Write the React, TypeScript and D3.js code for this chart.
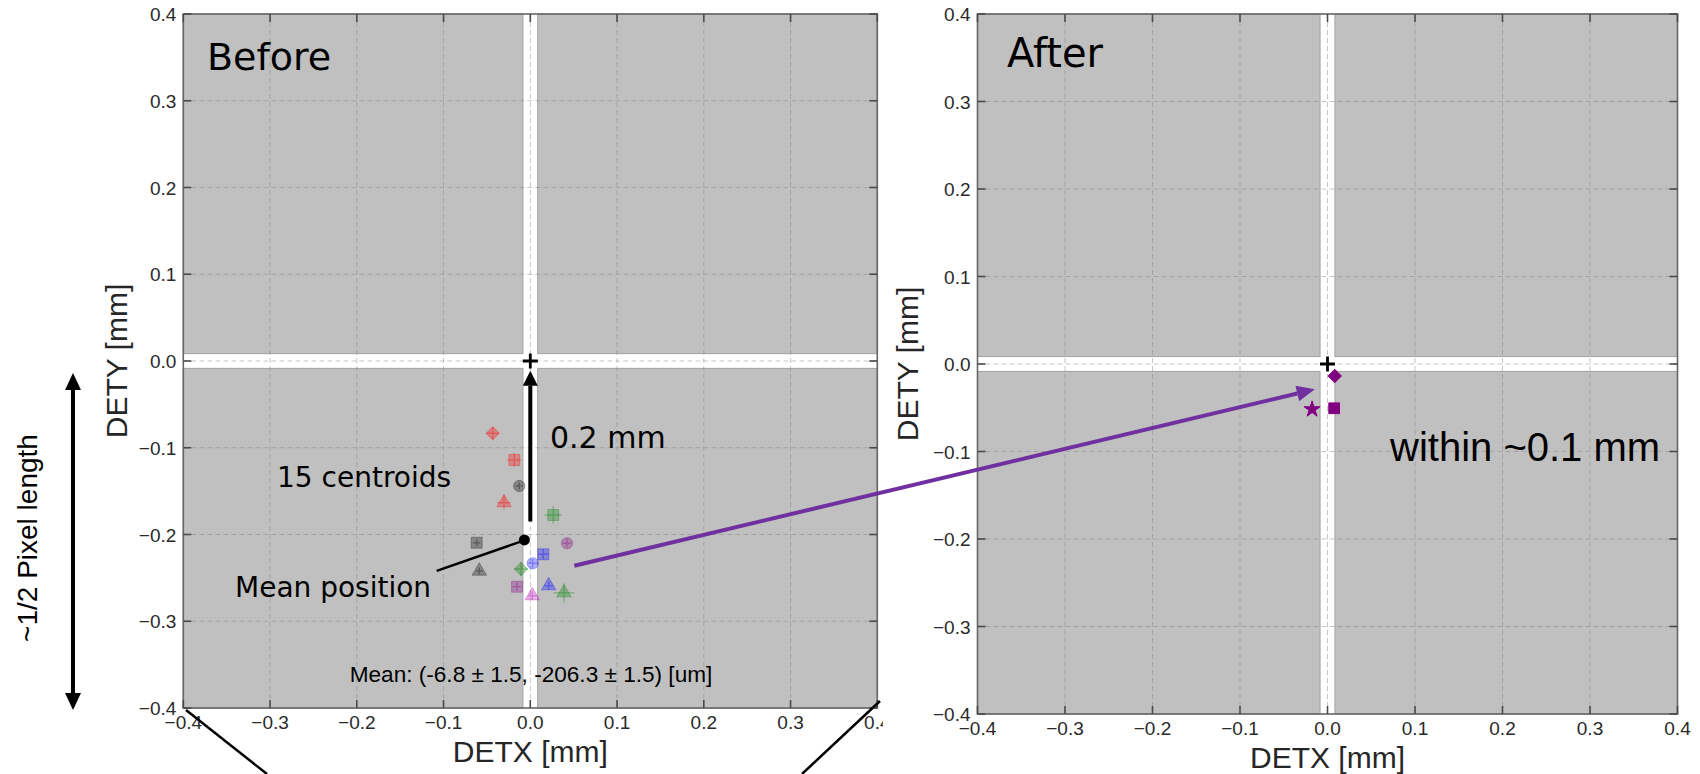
import React from 'react';
import * as d3 from 'd3';

// ---------- data ----------
const tickValues = [-0.4, -0.3, -0.2, -0.1, 0.0, 0.1, 0.2, 0.3, 0.4];
const tickLabels = ['\u22120.4', '\u22120.3', '\u22120.2', '\u22120.1', '0.0', '0.1', '0.2', '0.3', '0.4'];

// 15 centroids before correction (mm)
const beforeX = [-0.0433, -0.0184, -0.0127, -0.0303, 0.0265, -0.0618, 0.0423, 0.0150, 0.0028, -0.0107, -0.0588, -0.0153, 0.0212, 0.0388, 0.0023];
const beforeY = [-0.0833, -0.1141, -0.1441, -0.1633, -0.1775, -0.2095, -0.2101, -0.2228, -0.2332, -0.2398, -0.2421, -0.2602, -0.2590, -0.2671, -0.2705];
const beforeXErr = [0.007, 0.008, 0.004, 0.008, 0.010, 0.004, 0.005, 0.006, 0.005, 0.008, 0.004, 0.005, 0.005, 0.012, 0.005];
const beforeYErr = [0.007, 0.008, 0.004, 0.008, 0.010, 0.004, 0.005, 0.006, 0.005, 0.008, 0.004, 0.005, 0.005, 0.011, 0.005];
const beforeColor = ['#ff0000', '#ff0000', '#000000', '#ff0000', '#008000', '#000000', '#800080', '#0000ff', '#0000ff', '#008000', '#000000', '#800080', '#0000ff', '#008000', '#b000b0'];
const beforeShape = ['D', 's', 'o', '^', 's', 's', 'o', 's', 'o', 'D', '^', 's', '^', '^', '^'];

// centroids after correction (mm)
const afterX = [0.0083, -0.0176, 0.0076];
const afterY = [-0.0137, -0.0518, -0.0506];
const afterShape = ['D', '*', 's'];
const afterColor = '#800080';

const meanX = -0.0068;
const meanY = -0.2063;
const gapHalf = 0.0085;

const FONT = "'Liberation Sans', Arial, Helvetica, sans-serif";
const ANNO = "'DejaVu Sans', Verdana, sans-serif";

type PanelCfg = { left: number; top: number; size: number };
const LEFT: PanelCfg = { left: 183.3, top: 14, size: 694 };
const RIGHT: PanelCfg = { left: 977.5, top: 14, size: 700 };

function scales(p: PanelCfg) {
  const x = d3.scaleLinear().domain([-0.4, 0.4]).range([p.left, p.left + p.size]);
  const y = d3.scaleLinear().domain([-0.4, 0.4]).range([p.top + p.size, p.top]);
  return { x, y };
}

function symbolPath(shape: string, size: number): string {
  if (shape === 'D') return d3.symbol().type(d3.symbolSquare).size(size)() as string;
  if (shape === 's') return d3.symbol().type(d3.symbolSquare).size(size)() as string;
  if (shape === 'o') return d3.symbol().type(d3.symbolCircle).size(size)() as string;
  if (shape === '^') return d3.symbol().type(d3.symbolTriangle).size(size)() as string;
  if (shape === '*') return d3.symbol().type(d3.symbolStar).size(size)() as string;
  return d3.symbol().size(size)() as string;
}

function arrow(x1: number, y1: number, x2: number, y2: number, len: number, w: number) {
  const dx = x2 - x1, dy = y2 - y1;
  const d = Math.hypot(dx, dy);
  const ux = dx / d, uy = dy / d;
  const bx = x2 - ux * len, by = y2 - uy * len;
  const nx = -uy, ny = ux;
  const pts = [[x2, y2], [bx + nx * w / 2, by + ny * w / 2], [bx - nx * w / 2, by - ny * w / 2]];
  return { bx, by, poly: pts.map(p => p.join(',')).join(' ') };
}

function Frame({ p }: { p: PanelCfg }) {
  const { x, y } = scales(p);
  const g = gapHalf;
  const quads = [
    [-0.4, -g, g, 0.4], [g, 0.4, g, 0.4], [-0.4, -g, -0.4, -g], [g, 0.4, -0.4, -g],
  ];
  const inner = tickValues.filter(t => Math.abs(t) < 0.39);
  return (
    <g>
      {quads.map((q, i) => (
        <rect key={i} x={x(q[0])} y={y(q[3])} width={x(q[1]) - x(q[0])} height={y(q[2]) - y(q[3])}
          fill="#c0c0c0" stroke="#a2a2a2" strokeWidth={1} />
      ))}
      {inner.map((t, i) => (
        <g key={'g' + i}>
          <line x1={x(t)} x2={x(t)} y1={p.top} y2={p.top + p.size} stroke="#808080" strokeOpacity={0.45} strokeDasharray="5,3" strokeWidth={1} />
          <line y1={y(t)} y2={y(t)} x1={p.left} x2={p.left + p.size} stroke="#808080" strokeOpacity={0.45} strokeDasharray="5,3" strokeWidth={1} />
        </g>
      ))}
    </g>
  );
}

function Axes({ p, xLabBase, yLabX }: { p: PanelCfg; xLabBase: number; yLabX: number }) {
  const { x, y } = scales(p);
  const T = 8;
  const b = p.top + p.size, r = p.left + p.size;
  return (
    <g>
      <rect x={p.left} y={p.top} width={p.size} height={p.size} fill="none" stroke="#666" strokeWidth={1.6} />
      {tickValues.map((t, i) => (
        <g key={i} stroke="#4a4a4a" strokeWidth={1.6}>
          <line x1={x(t)} x2={x(t)} y1={b} y2={b - T} />
          <line x1={x(t)} x2={x(t)} y1={p.top} y2={p.top + T} />
          <line y1={y(t)} y2={y(t)} x1={p.left} x2={p.left + T} />
          <line y1={y(t)} y2={y(t)} x1={r} x2={r - T} />
        </g>
      ))}
      {tickValues.map((t, i) => (
        <text key={'xl' + i} x={x(t)} y={b + 21} textAnchor="middle" fontSize={19} fill="#2a2a2a" fontFamily={FONT}>{tickLabels[i]}</text>
      ))}
      {tickValues.map((t, i) => (
        <text key={'yl' + i} x={p.left - 7} y={y(t) + 7} textAnchor="end" fontSize={19} fill="#2a2a2a" fontFamily={FONT}>{tickLabels[i]}</text>
      ))}
      <text x={p.left + p.size / 2} y={xLabBase} textAnchor="middle" fontSize={30} fill="#262626" fontFamily={FONT}>DETX [mm]</text>
      <text transform={`translate(${yLabX},${p.top + p.size / 2}) rotate(-90)`} textAnchor="middle" fontSize={30} fill="#262626" fontFamily={FONT}>DETY [mm]</text>
    </g>
  );
}

function Origin({ p }: { p: PanelCfg }) {
  const { x, y } = scales(p);
  return <path d={`M${x(0) - 7.5},${y(0)}H${x(0) + 7.5}M${x(0)},${y(0) - 7.5}V${y(0) + 7.5}`} stroke="#000" strokeWidth={2.8} fill="none" />;
}

export default function App() {
  const L = scales(LEFT);
  const R = scales(RIGHT);

  const upStart = { x: 0, y: -0.185 };
  const upTip = { x: 0, y: -0.0112 };
  const up = arrow(L.x(upStart.x), L.y(upStart.y), L.x(upTip.x), L.y(upTip.y), 15, 15);

  const pStart = { x: L.x(0.0507), y: L.y(-0.236) };
  const pTip = { x: R.x(-0.0145), y: R.y(-0.0289) };
  const pa = arrow(pStart.x, pStart.y, pTip.x, pTip.y, 18, 16);

  const dblTop = 373, dblBot = 710, dblX = 73;
  const dA = arrow(dblX, dblBot, dblX, dblTop, 17, 16);
  const dB = arrow(dblX, dblTop, dblX, dblBot, 17, 16);

  const meanLine = { x1: L.x(-0.1079), y1: L.y(-0.2419), x2: L.x(-0.0119), y2: L.y(-0.2085) };

  return (
    <svg width={1700} height={774} style={{ position: 'absolute', left: 0, top: 0, background: '#fff' }}>
      <rect x={0} y={0} width={1700} height={774} fill="#fff" />
      {/* LEFT PANEL */}
      <Frame p={LEFT} />
      <g>
        {beforeX.map((v, i) => {
          const cx = L.x(v), cy = L.y(beforeY[i]);
          const ex = L.x(v + beforeXErr[i]) - cx;
          const ey = cy - L.y(beforeY[i] + beforeYErr[i]);
          const c = beforeColor[i];
          const sh = beforeShape[i];
          const size = sh === 'o' ? 100 : sh === '^' ? 90 : sh === 'D' ? 85 : 120;
          const rot = sh === 'D' ? 45 : 0;
          return (
            <g key={i}>
              <path d={`M${cx - ex},${cy}H${cx + ex}M${cx},${cy - ey}V${cy + ey}`} stroke={c} strokeOpacity={0.3} strokeWidth={1.5} />
              <path d={symbolPath(sh, size)} transform={`translate(${cx},${cy}) rotate(${rot})`} fill={c} fillOpacity={0.3} stroke={c} strokeOpacity={0.3} strokeWidth={1} />
            </g>
          );
        })}
      </g>
      <Axes p={LEFT} xLabBase={762} yLabX={127} />
      <Origin p={LEFT} />
      <line x1={L.x(upStart.x)} y1={L.y(upStart.y)} x2={up.bx} y2={up.by} stroke="#000" strokeWidth={4} />
      <polygon points={up.poly} fill="#000" />
      <line {...meanLine} stroke="#000" strokeWidth={2.5} />
      <circle cx={L.x(meanX)} cy={L.y(meanY)} r={5.5} fill="#000" />
      <text x={207} y={70} fontSize={38} fontFamily={ANNO} fill="#000">Before</text>
      <text x={550} y={448} fontSize={30} fontFamily={ANNO} fill="#000">0.2 mm</text>
      <text x={277} y={487} fontSize={28} fontFamily={ANNO} fill="#000">15 centroids</text>
      <text x={235} y={597} fontSize={28} fontFamily={ANNO} fill="#000">Mean position</text>
      <text x={531} y={682} fontSize={22.6} fontFamily={FONT} fill="#000" textAnchor="middle">Mean: (-6.8 ± 1.5, -206.3 ± 1.5) [um]</text>

      {/* cover for right figure */}
      <rect x={883} y={0} width={817} height={774} fill="#fff" />

      {/* RIGHT PANEL */}
      <Frame p={RIGHT} />
      <g>
        {afterX.map((v, i) => {
          const sh = afterShape[i];
          const size = sh === 'D' ? 85 : sh === '*' ? 80 : 115;
          const rot = sh === 'D' ? 45 : 0;
          return <path key={i} d={symbolPath(sh, size)} transform={`translate(${R.x(v)},${R.y(afterY[i])}) rotate(${rot})`} fill={afterColor} stroke={afterColor} strokeWidth={1} />;
        })}
      </g>
      <Axes p={RIGHT} xLabBase={768} yLabX={918} />
      <Origin p={RIGHT} />
      <text x={1007} y={67} fontSize={40} fontFamily={ANNO} fill="#000">After</text>
      <text x={1390} y={461} fontSize={40} fontFamily={FONT} fill="#000">within ~0.1 mm</text>

      <line x1={pStart.x} y1={pStart.y} x2={pa.bx} y2={pa.by} stroke="#7030a0" strokeWidth={4} />
      <polygon points={pa.poly} fill="#7030a0" />

      <line x1={dblX} y1={dA.by} x2={dblX} y2={dB.by} stroke="#000" strokeWidth={4} />
      <polygon points={dA.poly} fill="#000" />
      <polygon points={dB.poly} fill="#000" />
      <text transform={`translate(37,538) rotate(-90)`} textAnchor="middle" fontSize={28} fontFamily={FONT} fill="#000">~1/2 Pixel length</text>

      <line x1={186} y1={710} x2={267} y2={774} stroke="#000" strokeWidth={2.5} />
      <line x1={880} y1={701} x2={802} y2={774} stroke="#000" strokeWidth={2.5} />
    </svg>
  );
}
